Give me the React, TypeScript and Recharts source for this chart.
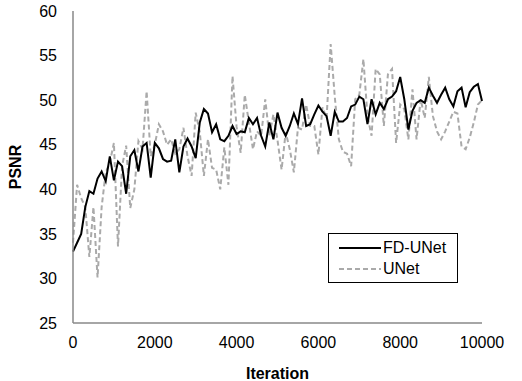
import { LineChart, Line, XAxis, YAxis } from "recharts"

const iterations = Array.from({ length: 101 }, (_, i) => i * 100)

const fdUnet = [
  33, 34, 35, 38, 39.8, 39.5, 41.2, 42, 40.9, 43.7,
  41, 43.1, 42.6, 39.5, 43.7, 44.4, 42, 44.8, 45.2, 41.3,
  45.2, 44.6, 43.4, 43.1, 43.2, 45.6, 41.9, 44.8, 45.7, 44.8,
  43.5, 47.5, 49, 48.5, 46.4, 47.3, 45.6, 45.4, 46, 47.1,
  46.2, 46.5, 46.4, 48, 47.3, 48, 46, 44.8, 47.5, 45.6,
  48.6, 46.9, 46, 47.1, 48.5, 47.3, 50.2, 47.1, 47.3, 48.4,
  49.4, 48.7, 48.2, 46, 48.7, 47.6, 47.6, 48, 49.3, 49.5,
  50.4, 50.1, 47.3, 50.1, 48.4, 49.7, 49, 50.1, 50.4, 51,
  52.6, 50.1, 46.7, 48.8, 49.7, 50, 49.7, 51.4, 50.5, 49.7,
  50.6, 51.4, 50.1, 49.3, 51, 51.4, 49.2, 50.9, 51.5, 51.8,
  49.9,
]

const unet = [
  34, 40.5, 39, 38, 32.4, 38, 30.1, 38, 41.9, 43,
  45.2, 33.6, 42.6, 44.9, 37.9, 40, 45.4, 44.5, 51, 43.7,
  45, 47.3, 46.5, 45, 45.6, 44, 44.5, 46.9, 43.7, 41.5,
  48.6, 46.4, 41.5, 45.6, 42.4, 42.2, 40, 44.7, 40.5, 52.7,
  47, 44.1, 50.6, 47.5, 44.5, 46.5, 46, 50.1, 46, 48.4,
  45.5, 42.2, 46.4, 44.5, 41.9, 46.9, 46.7, 49.5, 47.1, 47.1,
  43.9, 49.2, 48, 56.3, 50.4, 45.6, 44.2, 44, 42.6, 50.1,
  50.6, 54.6, 48.2, 46, 53.5, 52.9, 47.1, 52.9, 53.5, 45.2,
  49.5, 49, 45.6, 51.2, 45.6, 50.1, 48, 52.6, 48.2, 46.5,
  45.6, 46.5, 47.6, 48.7, 48.5, 44.8, 44.5, 45.8, 47.5, 49.5,
  50,
]

const xTicks = [0, 2000, 4000, 6000, 8000, 10000]
const yTicks = [25, 30, 35, 40, 45, 50, 55, 60]

const data = iterations.map((it, i) => ({ it, fd: fdUnet[i], unet: unet[i] }))

const font = "'Liberation Sans', Arial, sans-serif"

function LegendBox() {
  const row = (label: string, color: string, dash?: string) => (
    <div style={{ display: "flex", alignItems: "center", height: 21, whiteSpace: "nowrap" }}>
      <svg width={42} height={10}>
        <line x1={0} y1={5} x2={42} y2={5} stroke={color} strokeWidth={2} strokeDasharray={dash} />
      </svg>
      <span style={{ marginLeft: 2, fontSize: 16, color: "#000" }}>{label}</span>
    </div>
  )
  return (
    <div
      style={{
        position: "absolute",
        left: 328,
        top: 233,
        width: 130,
        height: 50,
        border: "1px solid #000",
        background: "#fff",
        padding: "3px 0 3px 10px",
        fontFamily: font,
        boxSizing: "border-box",
      }}
    >
      {row("FD-UNet", "#000")}
      {row("UNet", "#aaaaaa", "5 3")}
    </div>
  )
}

export default function App() {
  return (
    <div style={{ position: "absolute", left: 0, top: 0, width: 522, height: 381, background: "#fff" }}>
      <LineChart width={522} height={381} data={data} margin={{ top: 11, right: 40, bottom: 28, left: 43 }}>
        <XAxis
          dataKey="it"
          type="number"
          domain={[0, 10000]}
          ticks={xTicks}
          tickLine={false}
          tickSize={8}
          tickMargin={6}
          axisLine={{ stroke: "#888", strokeWidth: 1.5 }}
          tick={{ fill: "#000", fontSize: 16, fontFamily: font }}
          height={30}
          label={{ value: "Iteration", position: "insideBottom", offset: -26, style: { fontWeight: "bold", fontSize: 16, fill: "#000", fontFamily: font } }}
        />
        <XAxis xAxisId="top" dataKey="it" type="number" domain={[0, 10000]} orientation="top" tick={false} tickLine={false} height={0} axisLine={{ stroke: "#222", strokeWidth: 1.5 }} />
        <YAxis
          domain={[25, 60]}
          ticks={yTicks}
          tickLine={false}
          tickSize={8}
          tickMargin={8}
          axisLine={{ stroke: "#888", strokeWidth: 1.5 }}
          tick={{ fill: "#000", fontSize: 16, fontFamily: font }}
          width={30}
          label={{ value: "PSNR", angle: -90, position: "insideLeft", offset: -28, style: { fontWeight: "bold", fontSize: 16, fill: "#000", fontFamily: font, textAnchor: "middle" } }}
        />
        <YAxis yAxisId="right" orientation="right" domain={[25, 60]} tick={false} tickLine={false} width={0} axisLine={{ stroke: "#888", strokeWidth: 1.5 }} />
        <Line dataKey="unet" stroke="#aaaaaa" strokeWidth={2} strokeDasharray="5 3" dot={false} isAnimationActive={false} />
        <Line dataKey="fd" stroke="#000" strokeWidth={2} dot={false} isAnimationActive={false} />
      </LineChart>
      <LegendBox />
    </div>
  )
}
